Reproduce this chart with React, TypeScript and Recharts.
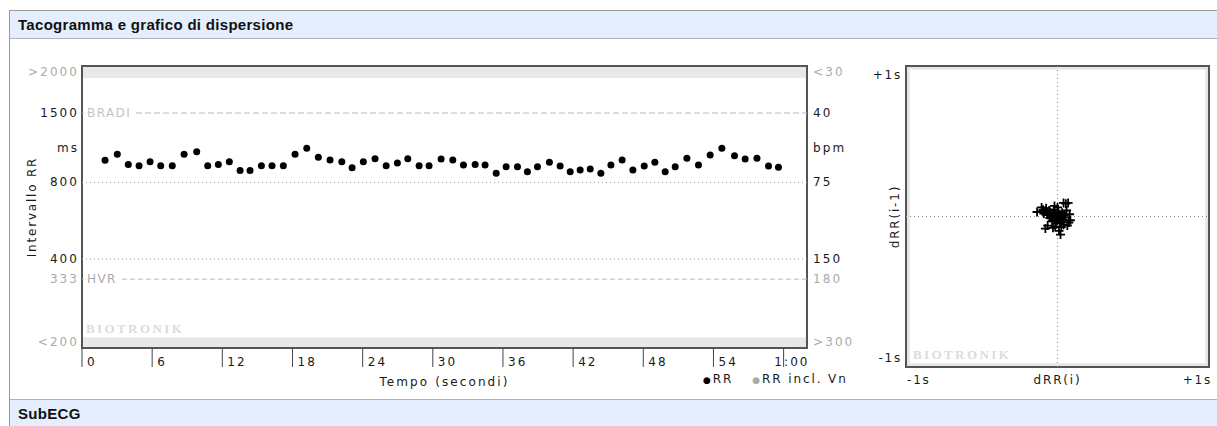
import {
    ScatterChart,
    Scatter,
    XAxis,
    YAxis,
    ReferenceLine,
    ReferenceArea,
    Legend,
    Label,
} from "recharts";

// tachogram: beat time (s) and RR interval (ms)
const beatTimes = [
    1.97, 3.02, 3.96, 4.88, 5.82, 6.73, 7.72, 8.73, 9.81, 10.75,
    11.66, 12.6, 13.52, 14.37, 15.34, 16.25, 17.22, 18.22, 19.22, 20.21,
    21.21, 22.22, 23.1, 24.06, 25.06, 26.01, 26.97, 27.86, 28.83, 29.68,
    30.71, 31.71, 32.62, 33.62, 34.47, 35.42, 36.27, 37.24, 38.09, 38.95,
    39.97, 40.89, 41.75, 42.6, 43.46, 44.37, 45.23, 46.19, 47.11, 48.08,
    48.99, 49.87, 50.73, 51.73, 52.72, 53.72, 54.72, 55.8, 56.71, 57.72,
    58.71, 59.56,
];
const rrValues = [
    977, 1032, 942, 931, 965, 931, 931, 1032, 1057, 931,
    942, 965, 892, 892, 931, 931, 931, 1032, 1089, 1004,
    980, 965, 914, 965, 992, 931, 954, 992, 931, 931,
    989, 980, 937, 942, 937, 869, 923, 923, 882, 923,
    960, 928, 882, 895, 903, 869, 937, 980, 895, 928,
    960, 882, 923, 995, 937, 1025, 1089, 1019, 989, 995,
    928, 917,
];

// RR axis (log scale) and its labels
const rrDomain = [178.6, 2296];
const rrTicks = [2175, 1500, 1092, 800, 400, 333, 189];
const msLabels = [">2000", "1500", "ms", "800", "400", "333", "<200"];
const bpmLabels = ["<30", "40", "bpm", "75", "150", "180", ">300"];
const mutedLabels = [">2000", "333", "<200", "<30", "180", ">300"];

const timeTicks = [0, 6, 12, 18, 24, 30, 36, 42, 48, 54, 60];
const timeLabels = ["0", "6", "12", "18", "24", "30", "36", "42", "48", "54", "1:00"];

// scatter plot: dRR(i) / dRR(i-1) in ms
const dRRi = [
    -135, -105, -95, -90, -75, -70, -60, -55, -50, -45,
    -40, -35, -30, -25, -20, -15, -10, -5, 0, 5,
    10, 15, 20, 25, 30, 35, 40, 45, 50, 55,
    60, 65, 70, 80, 85, -80, -65, -30, 10, 20,
    -15, 40, 0, -20, -100, 25, 75,
];
const dRRprev = [
    30, 60, 45, 20, 55, 30, 10, 40, -10, 25,
    0, -30, 15, 45, -15, 20, -45, 5, -25, 30,
    -10, 15, -40, 0, 25, -20, 90, 10, -5, 85,
    40, -60, 90, 15, -25, -80, -60, -75, -95, -120,
    -65, -55, 60, 70, 35, -70, -40,
];

const AXIS_FONT = '"DejaVu Sans", Verdana, sans-serif';
const TITLE_FONT = '"Liberation Sans", Arial, sans-serif';
const FS = 12;
const LS = 2.1;

function MsTick({ x, y, payload }: any) {
    const label = msLabels[rrTicks.indexOf(payload.value)];
    return (
        <text
            x={x + LS}
            y={y}
            dy={4}
            textAnchor="end"
            fontFamily={AXIS_FONT}
            fontSize={FS}
            letterSpacing={LS}
            fill={mutedLabels.includes(label) ? "#aaa" : "#1a1a1a"}
        >
            {label}
        </text>
    );
}

function BpmTick({ x, y, payload }: any) {
    const label = bpmLabels[rrTicks.indexOf(payload.value)];
    return (
        <text
            x={x}
            y={y}
            dy={4}
            textAnchor="start"
            fontFamily={AXIS_FONT}
            fontSize={FS}
            letterSpacing={LS}
            fill={mutedLabels.includes(label) ? "#aaa" : "#1a1a1a"}
        >
            {label}
        </text>
    );
}

function TimeTick({ x, y, payload }: any) {
    const i = timeTicks.indexOf(payload.value);
    const last = i === timeTicks.length - 1;
    return (
        <g>
            <line x1={x} y1={y} x2={x} y2={y + 19} stroke="#444" />
            <text
                x={last ? x + 26 : x + 5}
                y={y + 18}
                textAnchor={last ? "end" : "start"}
                fontFamily={AXIS_FONT}
                fontSize={FS}
                letterSpacing={LS}
                fill="#1a1a1a"
            >
                {timeLabels[i]}
            </text>
        </g>
    );
}

function lineLabel(text: string, width: number, color: string) {
    return (props: any) => {
        const vb = props.viewBox;
        return (
            <g>
                <rect x={vb.x + 2} y={vb.y - 6} width={width} height={12} fill="#fff" />
                <text
                    x={vb.x + 5}
                    y={vb.y + 4}
                    fontFamily={AXIS_FONT}
                    fontSize={FS}
                    letterSpacing={1.4}
                    fill={color}
                >
                    {text}
                </text>
            </g>
        );
    };
}

function Tachogram() {
    const data = beatTimes.map((t, i) => ({ t, rr: rrValues[i] }));

    return (
        <ScatterChart
            width={900}
            height={400}
            margin={{ top: 66, right: 33, bottom: 22, left: 22 }}
        >
            <XAxis
                type="number"
                dataKey="t"
                domain={[0, 62]}
                ticks={timeTicks}
                interval={0}
                tick={<TimeTick />}
                tickSize={0}
                tickMargin={0}
                tickLine={false}
                axisLine={false}
                height={30}
                allowDataOverflow
            >
                <Label
                    content={(p: any) => (
                        <text
                            x={p.viewBox.x + p.viewBox.width / 2}
                            y={386}
                            textAnchor="middle"
                            fontFamily={AXIS_FONT}
                            fontSize={FS}
                            letterSpacing={LS}
                            fill="#1a1a1a"
                        >
                            Tempo (secondi)
                        </text>
                    )}
                />
            </XAxis>
            <YAxis
                yAxisId="ms"
                type="number"
                dataKey="rr"
                scale="log"
                domain={rrDomain}
                ticks={rrTicks}
                interval={0}
                tick={<MsTick />}
                tickSize={0}
                tickMargin={5}
                tickLine={false}
                axisLine={false}
                width={60}
                allowDataOverflow
            >
                <Label
                    content={(p: any) => {
                        const cy = p.viewBox.y + p.viewBox.height / 2;
                        return (
                            <text
                                x={36}
                                y={cy}
                                transform={`rotate(-90, 36, ${cy})`}
                                textAnchor="middle"
                                fontFamily={AXIS_FONT}
                                fontSize={FS}
                                letterSpacing={1.8}
                                fill="#1a1a1a"
                            >
                                Intervallo RR
                            </text>
                        );
                    }}
                />
            </YAxis>
            <YAxis
                yAxisId="bpm"
                orientation="right"
                type="number"
                scale="log"
                domain={rrDomain}
                ticks={rrTicks}
                interval={0}
                tick={<BpmTick />}
                tickSize={0}
                tickMargin={6}
                tickLine={false}
                axisLine={false}
                width={60}
                allowDataOverflow
            />

            <ReferenceArea yAxisId="ms" x1={0} x2={62} y1={2060} y2={2296} fill="#e8e8e8" fillOpacity={1} stroke="none" />
            <ReferenceArea yAxisId="ms" x1={0} x2={62} y1={178.6} y2={197} fill="#e8e8e8" fillOpacity={1} stroke="none" />

            <ReferenceLine yAxisId="ms" y={1500} stroke="#bbb" strokeDasharray="6 3" label={lineLabel("BRADI", 52, "#c4c4c4")} />
            <ReferenceLine yAxisId="ms" y={800} stroke="#999" strokeDasharray="1 3" />
            <ReferenceLine yAxisId="ms" y={400} stroke="#999" strokeDasharray="1 3" />
            <ReferenceLine yAxisId="ms" y={333} stroke="#bbb" strokeDasharray="5 3" label={lineLabel("HVR", 38, "#aaa")} />

            <ReferenceArea
                yAxisId="ms"
                x1={0}
                x2={62}
                y1={178.6}
                y2={2296}
                fill="none"
                fillOpacity={0}
                stroke="#555"
                strokeWidth={2}
            />

            <Scatter
                yAxisId="ms"
                name="RR"
                data={data}
                fill="#000"
                isAnimationActive={false}
                shape={(p: any) => <circle cx={p.cx} cy={p.cy} r={3.5} fill="#000" />}
            />
            <Scatter
                yAxisId="ms"
                name="RR incl. Vn"
                data={[]}
                fill="#aaa"
                isAnimationActive={false}
            />

            <Legend
                verticalAlign="middle"
                align="center"
                wrapperStyle={{ left: 703, top: 372, width: 190 }}
                content={() => (
                    <div
                        style={{
                            display: "flex",
                            gap: 19,
                            fontFamily: AXIS_FONT,
                            fontSize: FS,
                            letterSpacing: 1.9,
                            color: "#1a1a1a",
                            whiteSpace: "nowrap",
                        }}
                    >
                        <span>
                            <span style={{ color: "#000", fontSize: 9 }}>●</span>RR
                        </span>
                        <span>
                            <span style={{ color: "#aaa", fontSize: 9 }}>●</span>RR incl. Vn
                        </span>
                    </div>
                )}
            />
        </ScatterChart>
    );
}

function PoincareXTick({ x, y, payload }: any) {
    const v = payload.value;
    const text = v < 0 ? "-1s" : v > 0 ? "+1s" : "dRR(i)";
    const anchor = v < 0 ? "start" : v > 0 ? "end" : "middle";
    return (
        <text
            x={v < 0 ? x + 1 : v > 0 ? x + 3 : x}
            y={y + 17}
            textAnchor={anchor}
            fontFamily={AXIS_FONT}
            fontSize={FS}
            letterSpacing={1.8}
            fill="#1a1a1a"
        >
            {text}
        </text>
    );
}

function PoincareYTick({ x, y, payload }: any) {
    const v = payload.value;
    if (v === 0) {
        return (
            <text
                x={x - 1}
                y={y}
                transform={`rotate(-90, ${x - 1}, ${y})`}
                textAnchor="middle"
                fontFamily={AXIS_FONT}
                fontSize={FS}
                letterSpacing={1.8}
                fill="#1a1a1a"
            >
                dRR(i-1)
            </text>
        );
    }
    return (
        <text
            x={x + 2}
            y={v > 0 ? y + 13 : y - 5}
            textAnchor="end"
            fontFamily={AXIS_FONT}
            fontSize={FS}
            letterSpacing={1.8}
            fill="#1a1a1a"
        >
            {v > 0 ? "+1s" : "-1s"}
        </text>
    );
}

function Poincare() {
    const data = dRRi.map((d, i) => ({ x: d, y: dRRprev[i] }));

    return (
        <ScatterChart
            width={367}
            height={400}
            margin={{ top: 66, right: 8, bottom: 8, left: 0 }}
        >
            <XAxis
                type="number"
                dataKey="x"
                domain={[-1000, 1000]}
                ticks={[-1000, 0, 1000]}
                interval={0}
                tick={<PoincareXTick />}
                tickSize={0}
                tickMargin={0}
                tickLine={false}
                axisLine={false}
                height={25}
            />
            <YAxis
                type="number"
                dataKey="y"
                domain={[-1000, 1000]}
                ticks={[-1000, 0, 1000]}
                interval={0}
                tick={<PoincareYTick />}
                tickSize={0}
                tickMargin={6}
                tickLine={false}
                axisLine={false}
                width={56}
            />

            <ReferenceArea
                x1={-988}
                x2={988}
                y1={-988}
                y2={988}
                fill="none"
                fillOpacity={0}
                stroke="#e6e6e6"
                strokeWidth={4}
            />
            <ReferenceLine x={0} stroke="#888" strokeDasharray="1 3" />
            <ReferenceLine y={0} stroke="#888" strokeDasharray="1 3" />
            <ReferenceArea
                x1={-1000}
                x2={1000}
                y1={-1000}
                y2={1000}
                fill="none"
                fillOpacity={0}
                stroke="#555"
                strokeWidth={2}
            />

            <Scatter
                data={data}
                fill="#000"
                isAnimationActive={false}
                shape={(p: any) => (
                    <path
                        d={`M${p.cx - 4.5},${p.cy}H${p.cx + 4.5}M${p.cx},${p.cy - 4.5}V${p.cy + 4.5}`}
                        stroke="#000"
                        strokeWidth={1.8}
                        fill="none"
                    />
                )}
            />
        </ScatterChart>
    );
}

const watermark = {
    position: "absolute" as const,
    fontFamily: '"Liberation Serif", serif',
    fontWeight: 700,
    fontSize: 13,
    letterSpacing: 2.4,
    color: "#dcdcdc",
    pointerEvents: "none" as const,
};

const headerBar = {
    position: "absolute" as const,
    left: 10,
    width: 1207,
    background: "#e4eefc",
    fontFamily: TITLE_FONT,
    fontWeight: 700,
    fontSize: 15,
    letterSpacing: 0.3,
    color: "#111",
    paddingLeft: 8,
    boxSizing: "border-box" as const,
};

export default function App() {
    return (
        <div
            style={{
                position: "absolute",
                left: 0,
                top: 0,
                width: 1217,
                height: 426,
                overflow: "hidden",
                background: "#fff",
            }}
        >
            <div
                style={{
                    position: "absolute",
                    left: 9,
                    top: 10,
                    width: 1208,
                    height: 416,
                    borderLeft: "1px solid #9a9a9a",
                    borderTop: "1px solid #9a9a9a",
                }}
            />
            <div
                style={{
                    ...headerBar,
                    top: 11,
                    height: 28,
                    lineHeight: "27px",
                    borderBottom: "1px solid #aeb3ba",
                }}
            >
                Tacogramma e grafico di dispersione
            </div>

            <div style={{ position: "absolute", left: 0, top: 0 }}>
                <Tachogram />
            </div>
            <div style={{ position: "absolute", left: 850, top: 0 }}>
                <Poincare />
            </div>

            <div style={{ ...watermark, left: 86, top: 321 }}>BIOTRONIK</div>
            <div style={{ ...watermark, left: 913, top: 347 }}>BIOTRONIK</div>

            <div
                style={{
                    ...headerBar,
                    top: 399,
                    height: 27,
                    lineHeight: "27px",
                    borderTop: "1px solid #aeb3ba",
                }}
            >
                SubECG
            </div>
        </div>
    );
}
